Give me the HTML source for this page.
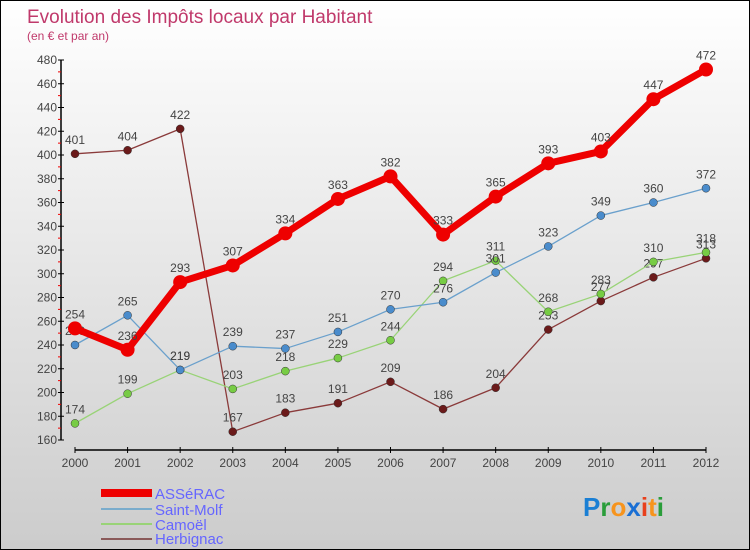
<!DOCTYPE html>
<html><head><meta charset="utf-8"><style>
body{margin:0}
#c{width:748px;height:548px;border:1px solid #000;background:linear-gradient(#fff,#ccc);position:relative;overflow:hidden;font-family:"Liberation Sans",sans-serif}
</style></head><body>
<div id="c">
<svg id="s" width="748" height="548" style="position:absolute;left:0;top:0">
<text x="26" y="22" font-size="19" fill="#c0396b">Evolution des Impôts locaux par Habitant</text>
<text x="26" y="39" font-size="12" fill="#c0396b">(en € et par an)</text>
<g id="axes"></g><g id="series"></g>
<g>
<rect x="100" y="488" width="51" height="8" fill="#e00"/>
<text x="154" y="498" font-size="15" fill="#66f">ASSéRAC</text>
<rect x="100" y="507" width="51" height="2" fill="#7aaccc"/>
<text x="154" y="514" font-size="15" fill="#66f">Saint-Molf</text>
<rect x="100" y="522" width="51" height="2" fill="#99d377"/>
<text x="154" y="529" font-size="15" fill="#66f">Camoël</text>
<rect x="100" y="537" width="51" height="2" fill="#8a5a5a"/>
<text x="154" y="543" font-size="15" fill="#66f">Herbignac</text>
</g>
<text x="582" y="515" font-size="26" font-weight="bold"><tspan fill="#1a7fd4">P</tspan><tspan fill="#2a9d3a">r</tspan><tspan fill="#f7941d">o</tspan><tspan fill="#1a6fd4">x</tspan><tspan fill="#e8401c">i</tspan><tspan fill="#f7941d">t</tspan><tspan fill="#2a9d3a">i</tspan></text>
</svg>
</div>
<script>
const years=[2000,2001,2002,2003,2004,2005,2006,2007,2008,2009,2010,2011,2012];
const yTicks=[160,180,200,220,240,260,280,300,320,340,360,380,400,420,440,460,480];
const asserac=[254,236,293,307,334,363,382,333,365,393,403,447,472];
const saintMolf=[240,265,219,239,237,251,270,276,301,323,349,360,372];
const camoel=[174,199,219,203,218,229,244,294,311,268,283,310,318];
const herbignac=[401,404,422,167,183,191,209,186,204,253,277,297,313];
const NS='http://www.w3.org/2000/svg';
const X=i=>74+i*(705-74)/(years.length-1);
const Y=v=>439-(v-160)*(380/320);
function mk(t,a,p){const e=document.createElementNS(NS,t);for(const k in a)e.setAttribute(k,a[k]);p.appendChild(e);return e;}
const ax=document.getElementById('axes');
let e=mk('line',{x1:60,y1:Y(480),x2:60,y2:Y(160),stroke:'#000','stroke-width':1.5},ax);

e=mk('line',{x1:X(0),y1:449,x2:X(12),y2:449,stroke:'#000','stroke-width':1.5},ax);

yTicks.forEach((v,i)=>{
 mk('line',{x1:57,y1:Y(v),x2:63,y2:Y(v),stroke:'#000'},ax);
 if(i<yTicks.length-1)mk('line',{x1:57,y1:Y(v+10),x2:60,y2:Y(v+10),stroke:'#e00'},ax);
 const t=mk('text',{x:56,y:Y(v)+4,'font-size':12,fill:'#444','text-anchor':'end'},ax);t.textContent=v;
 
});
years.forEach((y,i)=>{
 mk('line',{x1:X(i),y1:446,x2:X(i),y2:452,stroke:'#000'},ax);
 const t=mk('text',{x:X(i),y:466,'font-size':12,fill:'#444','text-anchor':'middle'},ax);t.textContent=y;
 
});
const sg=document.getElementById('series');
function draw(vals,name,color,dot,w,r){
 const g=mk('g',{},sg);
 const l=mk('polyline',{points:vals.map((v,i)=>X(i)+','+Y(v)).join(' '),fill:'none',stroke:color,'stroke-width':w,'stroke-linejoin':'round'},g);
 
 vals.forEach((v,i)=>{
  const c=mk('circle',{cx:X(i),cy:Y(v),r:r,fill:dot,stroke:w>3?'none':'#333','stroke-width':0.5},g);
  
  const t=mk('text',{x:X(i),y:Y(v)-10,'font-size':12,fill:'#444','text-anchor':'middle'},g);t.textContent=v;
  
 });
}
draw(herbignac,'herbignac','#8a3a3a','#6b1a1a',1.3,4);
draw(camoel,'camoel','#99d377','#77cc44',1.3,4);
draw(saintMolf,'saint-molf','#6aa0cc','#4a8ccc',1.3,4);
draw(asserac,'asserac','#ee0000','#ee0000',7,7);
</script>
</body></html>
